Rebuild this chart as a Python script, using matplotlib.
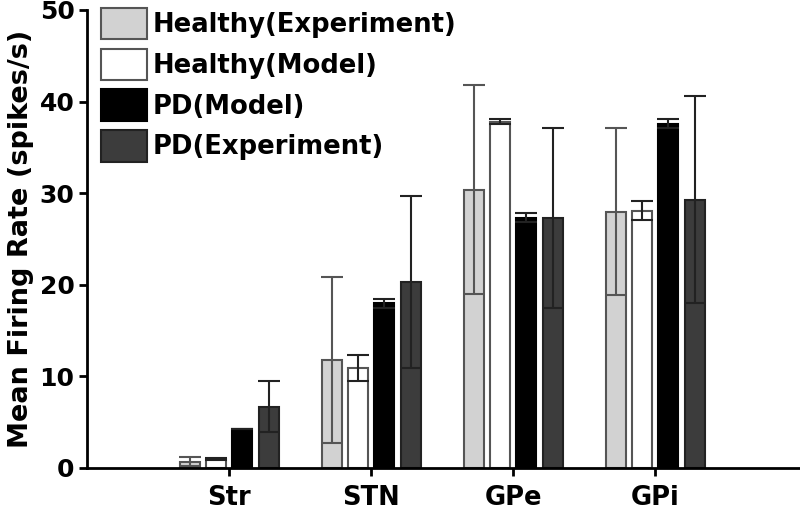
import matplotlib
matplotlib.use("Agg")
import matplotlib.pyplot as plt
import numpy as np

plt.rcParams['font.family'] = ['DejaVu Sans']
plt.rcParams['font.weight'] = 'bold'

categories = ["Str", "STN", "GPe", "GPi"]
series_names = ["Healthy(Experiment)", "Healthy(Model)", "PD(Model)", "PD(Experiment)"]
healthy_exp = [0.7, 11.8, 30.4, 28.0]
healthy_exp_err = [0.5, 9.1, 11.4, 9.1]
healthy_model = [1.0, 10.9, 37.8, 28.1]
healthy_model_err = [0.1, 1.4, 0.3, 1.0]
pd_model = [4.3, 18.0, 27.3, 37.6]
pd_model_err = [0.0, 0.5, 0.5, 0.5]
pd_exp = [6.7, 20.3, 27.3, 29.3]
pd_exp_err = [2.8, 9.4, 9.8, 11.3]

values = [healthy_exp, healthy_model, pd_model, pd_exp]
errors = [healthy_exp_err, healthy_model_err, pd_model_err, pd_exp_err]
colors = ["#d2d2d2", "#ffffff", "#000000", "#3c3c3c"]
edgecolors = ["#555555", "#555555", "#000000", "#222222"]
ecolors = ["#555555", "#222222", "#222222", "#222222"]

fig = plt.figure(figsize=(8.0, 5.17), dpi=100)
ax = fig.add_axes([0.1088, 0.0948, 0.8912, 0.8859])

x = np.arange(len(categories))
width = 0.145
offsets = [-0.275, -0.092, 0.092, 0.28]
for i in range(4):
    ax.bar(x + offsets[i], values[i], width, yerr=errors[i], color=colors[i],
           edgecolor=edgecolors[i], linewidth=1.5, label=series_names[i],
           error_kw=dict(ecolor=ecolors[i], elinewidth=1.5, capsize=8, capthick=1.5))

ax.set_xlim(-1.0, 4.02)
ax.set_ylim(0, 50)
ax.set_yticks([0, 10, 20, 30, 40, 50])
ax.set_xticks(x)
ax.set_xticklabels(categories)
ax.spines['top'].set_visible(False)
ax.spines['right'].set_visible(False)
ax.spines['left'].set_linewidth(2)
ax.spines['bottom'].set_linewidth(2)
ax.tick_params(axis='both', direction='out', length=6, width=2)
ax.tick_params(axis='y', labelsize=18, pad=3)
ax.tick_params(axis='x', labelsize=18.5, pad=6)
ax.set_ylabel("Mean Firing Rate (spikes/s)", fontsize=19.5, fontweight='bold', labelpad=4)

leg = ax.legend(loc='upper left', bbox_to_anchor=(0.0196, 1.005), frameon=False, fontsize=18.6,
                handlelength=1.78, handleheight=1.5, labelspacing=0.36, handletextpad=0.22,
                borderaxespad=0.0, borderpad=0.0)
for t in leg.get_texts():
    t.set_fontweight('bold')

fig.savefig("out.png", dpi=100)
